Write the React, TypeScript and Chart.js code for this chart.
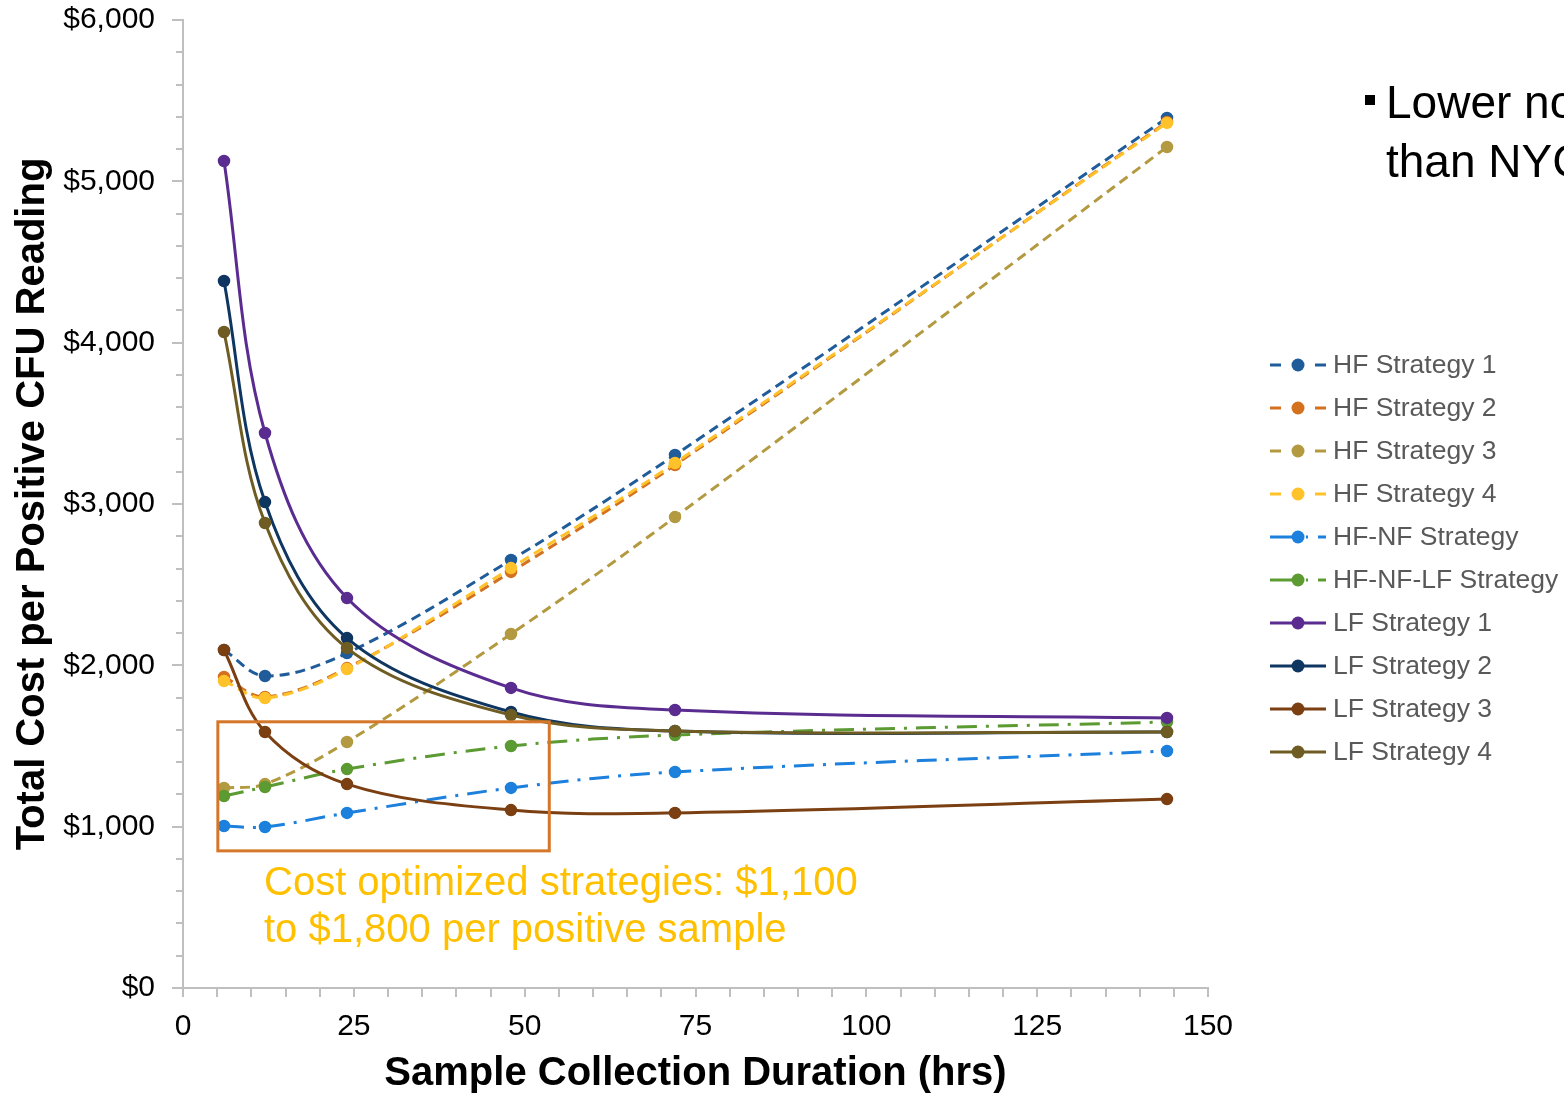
import React, { useEffect, useRef } from "react";
import { Chart, registerables } from "chart.js";

Chart.register(...registerables);

// ---- data ----
const durations = [6, 12, 24, 48, 72, 144];
const hfStrategy1 = [2095, 1934, 2076, 2653, 3304, 5393];
const hfStrategy2 = [1928, 1804, 1983, 2579, 3242, 5368];
const hfStrategy3 = [1240, 1264, 1525, 2194, 2919, 5213];
const hfStrategy4 = [1903, 1797, 1977, 2603, 3254, 5362];
const hfNfStrategy = [1004, 998, 1085, 1240, 1339, 1469];
const hfNfLfStrategy = [1190, 1246, 1357, 1500, 1568, 1649];
const lfStrategy1 = [5126, 3440, 2417, 1860, 1723, 1674];
const lfStrategy2 = [4382, 3012, 2169, 1711, 1593, 1587];
const lfStrategy3 = [2095, 1587, 1264, 1103, 1085, 1171];
const lfStrategy4 = [4066, 2882, 2107, 1692, 1593, 1587];

const seriesNames = [
  "HF Strategy 1",
  "HF Strategy 2",
  "HF Strategy 3",
  "HF Strategy 4",
  "HF-NF Strategy",
  "HF-NF-LF Strategy",
  "LF Strategy 1",
  "LF Strategy 2",
  "LF Strategy 3",
  "LF Strategy 4",
];
const seriesValues = [
  hfStrategy1,
  hfStrategy2,
  hfStrategy3,
  hfStrategy4,
  hfNfStrategy,
  hfNfLfStrategy,
  lfStrategy1,
  lfStrategy2,
  lfStrategy3,
  lfStrategy4,
];
const seriesColors = [
  "#1F5C99",
  "#D4711F",
  "#B39A40",
  "#FFC22A",
  "#1C80DC",
  "#5C9A32",
  "#5B2C90",
  "#0F3660",
  "#7B3F12",
  "#6E5C23",
];
const seriesStyles = ["dash", "dash", "dash", "dash", "dashdot", "dashdot", "solid", "solid", "solid", "solid"];

const xTickLabels = [0, 25, 50, 75, 100, 125, 150];
const yTickLabels = [0, 1000, 2000, 3000, 4000, 5000, 6000];

const annotationBoxX = [5.1, 53.6];
const annotationBoxY = [850, 1650];
const annotationText = ["Cost optimized strategies: $1,100", "to $1,800 per positive sample"];
const sideText = ["Lower no", "than NYC"];

const FONT = "'Liberation Sans', Arial, Helvetica, sans-serif";

const dashFor = (style: string) =>
  style === "dash" ? [10, 6] : style === "dashdot" ? [20, 9, 3, 9] : [];

function fmtMoney(v: number) {
  const s = String(Math.round(v));
  return "$" + s.replace(/\B(?=(\d{3})+(?!\d))/g, ",");
}

const decorPlugin = {
  id: "decor",
  afterDatasetsDraw(chart: any) {
    const { ctx, scales } = chart;
    const xs = scales.x;
    const ys = scales.y;
    ctx.save();
    // extra length for major y ticks
    ctx.strokeStyle = "#BFBFBF";
    ctx.lineWidth = 2;
    yTickLabels.forEach((v) => {
      const y = Math.round(ys.getPixelForValue(v));
      ctx.beginPath();
      ctx.moveTo(xs.left - 11, y);
      ctx.lineTo(xs.left - 6, y);
      ctx.stroke();
    });
    // annotation box
    const x0 = xs.getPixelForValue(annotationBoxX[0]);
    const x1 = xs.getPixelForValue(annotationBoxX[1]);
    const y0 = ys.getPixelForValue(annotationBoxY[1]);
    const y1 = ys.getPixelForValue(annotationBoxY[0]);
    ctx.strokeStyle = "#D5772A";
    ctx.lineWidth = 3;
    ctx.strokeRect(x0, y0, x1 - x0, y1 - y0);
    ctx.fillStyle = "#FFC000";
    ctx.font = `40px ${FONT}`;
    ctx.textAlign = "left";
    ctx.textBaseline = "middle";
    ctx.fillText(annotationText[0], 264, 884);
    ctx.fillText(annotationText[1], 264, 931);

    // legend
    const lx0 = 1270;
    const lx1 = 1326;
    const lmx = 1298;
    chart.data.datasets.forEach((ds: any, i: number) => {
      const y = 365 + i * 43;
      const style = seriesStyles[i];
      ctx.strokeStyle = ds.borderColor;
      ctx.fillStyle = ds.borderColor;
      ctx.lineWidth = 3;
      ctx.setLineDash([]);
      const seg = (a: number, b: number) => {
        ctx.beginPath();
        ctx.moveTo(a, y);
        ctx.lineTo(b, y);
        ctx.stroke();
      };
      if (style === "dash") {
        seg(lx0, lx0 + 11);
        seg(lx1 - 11, lx1);
      } else if (style === "dashdot") {
        seg(lx0, lmx);
        seg(lmx + 8, lmx + 10);
        seg(lx1 - 8, lx1);
      } else {
        seg(lx0, lx1);
      }
      ctx.beginPath();
      ctx.arc(lmx, y, 6.5, 0, Math.PI * 2);
      ctx.fill();
      ctx.fillStyle = "#595959";
      ctx.font = `26.5px ${FONT}`;
      ctx.textAlign = "left";
      ctx.textBaseline = "middle";
      ctx.fillText(ds.label, 1333, y + 1);
    });

    // side bullet text
    ctx.fillStyle = "#000";
    ctx.fillRect(1365, 95, 10, 10);
    ctx.font = `46px ${FONT}`;
    ctx.textBaseline = "alphabetic";
    ctx.fillText(sideText[0], 1386, 118);
    ctx.fillText(sideText[1], 1386, 177);
    ctx.restore();
  },
};

export default function App() {
  const ref = useRef<HTMLCanvasElement | null>(null);

  useEffect(() => {
    if (!ref.current) return;
    const datasets = seriesNames.map((name, i) => ({
      label: name,
      data: durations.map((d, j) => ({ x: d, y: seriesValues[i][j] })),
      borderColor: seriesColors[i],
      backgroundColor: seriesColors[i],
      pointBackgroundColor: seriesColors[i],
      pointBorderColor: seriesColors[i],
      pointRadius: 5.5,
      pointBorderWidth: 1.5,
      borderWidth: 3,
      borderDash: dashFor(seriesStyles[i]),
      tension: 0.35,
      fill: false,
      order: seriesNames.length - i,
    }));

    const chart = new Chart(ref.current, {
      type: "line",
      data: { datasets },
      plugins: [decorPlugin],
      options: {
        animation: false,
        responsive: false,
        devicePixelRatio: 1,
        layout: { padding: { left: 0, right: 356, top: 20, bottom: 0 } },
        plugins: { legend: { display: false }, tooltip: { enabled: false } },
        scales: {
          x: {
            type: "linear",
            min: 0,
            max: 150,
            afterFit: (s: any) => {
              s.height = 106;
              s.paddingLeft = 0;
              s.paddingRight = 0;
            },
            ticks: {
              stepSize: 5,
              autoSkip: false,
              maxTicksLimit: 100,
              maxRotation: 0,
              padding: 12,
              color: "#000",
              font: { family: FONT, size: 30 },
              callback: (v: any) => (xTickLabels.includes(Number(v)) ? String(v) : ""),
            },
            grid: {
              display: true,
              drawOnChartArea: false,
              drawTicks: true,
              tickLength: 9,
              color: "#BFBFBF",
              lineWidth: 2,
            },
            border: { display: true, color: "#BFBFBF", width: 2 },
            title: {
              display: true,
              text: "Sample Collection Duration (hrs)",
              color: "#000",
              font: { family: FONT, size: 40, weight: "bold", lineHeight: 1 },
              padding: { top: 0, bottom: 0 },
            },
          },
          y: {
            type: "linear",
            min: 0,
            max: 6000,
            afterFit: (s: any) => {
              s.width = 183;
              s.paddingTop = 0;
              s.paddingBottom = 0;
            },
            ticks: {
              stepSize: 200,
              autoSkip: false,
              maxTicksLimit: 100,
              padding: 21,
              color: "#000",
              font: { family: FONT, size: 30 },
              callback: (v: any) => (yTickLabels.includes(Number(v)) ? fmtMoney(Number(v)) : ""),
            },
            grid: {
              display: true,
              drawOnChartArea: false,
              drawTicks: true,
              tickLength: 7,
              color: "#BFBFBF",
              lineWidth: 2,
            },
            border: { display: true, color: "#BFBFBF", width: 2 },
            title: {
              display: true,
              text: "Total Cost per Positive CFU Reading",
              color: "#000",
              font: { family: FONT, size: 40, weight: "bold", lineHeight: 1 },
              padding: { top: 13, bottom: 0 },
            },
          },
        },
      } as any,
    });
    return () => chart.destroy();
  }, []);

  return (
    <div
      style={{
        position: "fixed",
        left: 0,
        top: 0,
        width: 1564,
        height: 1094,
        overflow: "hidden",
        background: "#fff",
      }}
    >
      <canvas ref={ref} width={1564} height={1094} style={{ display: "block", width: 1564, height: 1094 }} />
    </div>
  );
}
